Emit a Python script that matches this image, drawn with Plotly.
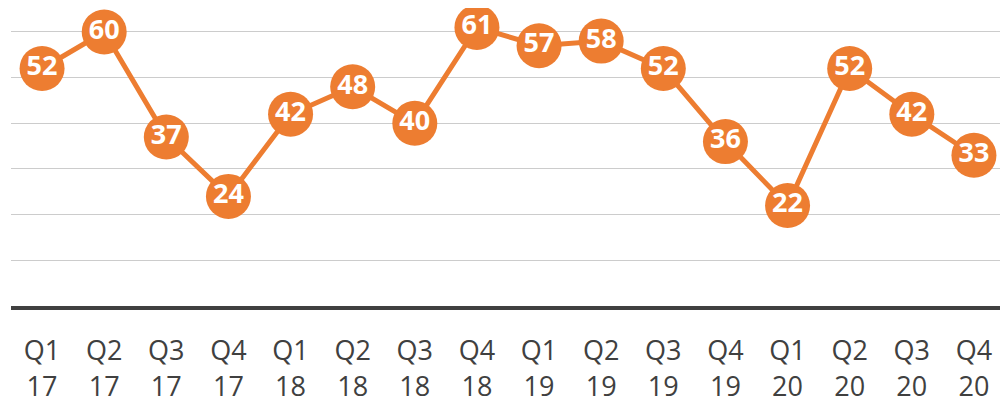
import plotly.graph_objects as go

categories = ["Q1<br>17", "Q2<br>17", "Q3<br>17", "Q4<br>17",
              "Q1<br>18", "Q2<br>18", "Q3<br>18", "Q4<br>18",
              "Q1<br>19", "Q2<br>19", "Q3<br>19", "Q4<br>19",
              "Q1<br>20", "Q2<br>20", "Q3<br>20", "Q4<br>20"]
values = [52, 60, 37, 24, 42, 48, 40, 61, 57, 58, 52, 36, 22, 52, 42, 33]

ORANGE = "#ED7D31"

fig = go.Figure(go.Scatter(
    x=categories, y=values,
    mode="lines+markers+text",
    line=dict(color=ORANGE, width=5),
    marker=dict(color=ORANGE, size=45),
    text=[str(v) for v in values],
    textposition="middle center",
    textfont=dict(family="Open Sans", size=27, color="white", weight="bold"),
    cliponaxis=False,
    hoverinfo="skip",
))

# page has an 8px default body margin, so the figure is sized to fit the window
fig.update_layout(
    width=1000, height=395,
    margin=dict(l=3, r=3, t=0, b=97, autoexpand=False),
    paper_bgcolor="white", plot_bgcolor="white",
    showlegend=False,
    font=dict(family="Open Sans", color="#404040"),
)
fig.update_xaxes(
    type="category",
    range=[-0.5, len(categories) - 0.5],
    automargin=False,
    showgrid=False,
    showline=True, linecolor="#404040", linewidth=4,
    ticks="",
    tickfont=dict(family="Open Sans", size=27, color="#404040"),
    ticklabelstandoff=18,
)
fig.update_yaxes(
    range=[0, 65.25],
    automargin=False,
    tickvals=[10, 20, 30, 40, 50, 60],
    showticklabels=False,
    showgrid=True, gridcolor="#cccccc", gridwidth=1,
    zeroline=False,
    showline=False,
)

fig.write_html("out.html")
